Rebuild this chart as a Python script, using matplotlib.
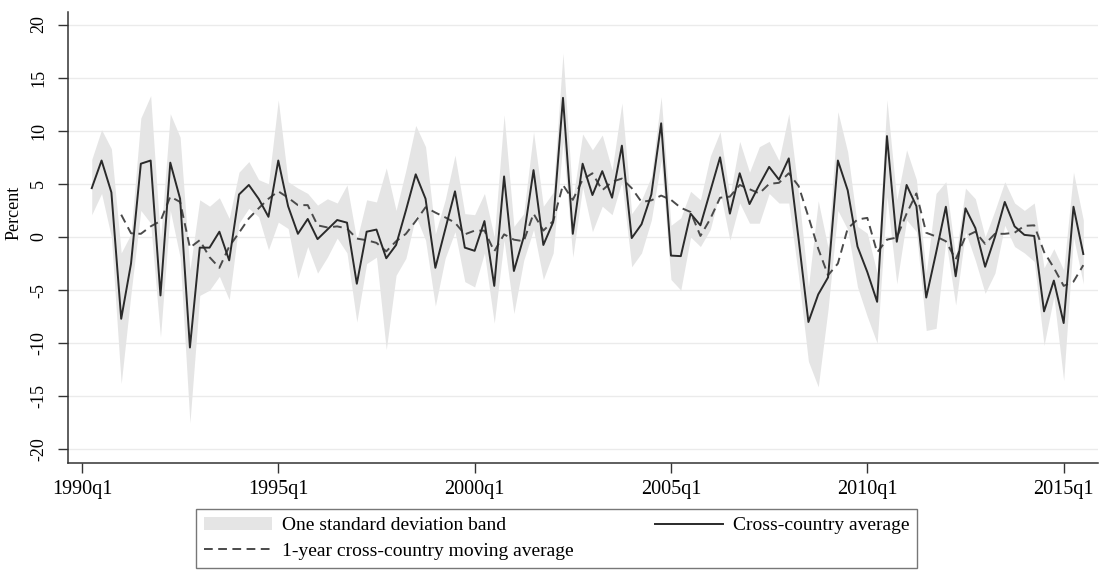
import matplotlib
matplotlib.use('Agg')
import matplotlib.pyplot as plt
import numpy as np

# quarters counted from 1990q1 (= 0); data run 1990q2 .. 2015q3
quarter = np.arange(1, 103)

avg = [4.6, 7.2, 4.2, -7.7, -2.5, 6.9, 7.2, -5.5, 7.0, 3.6,
       -10.4, -1.0, -1.0, 0.5, -2.2, 4.0, 4.9, 3.6, 1.9, 7.2,
       2.9, 0.3, 1.7, -0.2, 0.7, 1.6, 1.35, -4.4, 0.5, 0.7,
       -2.0, -0.75, 2.5, 5.9, 3.6, -2.9, 0.7, 4.3, -1.0, -1.3,
       1.5, -4.6, 5.7, -3.2, 0.0, 6.3, -0.75, 1.4, 13.1, 0.3,
       6.9, 3.95, 6.2, 3.7, 8.6, -0.1, 1.2, 4.0, 10.7, -1.75,
       -1.8, 2.2, 1.1, 4.3, 7.5, 2.2, 6.0, 3.1, 4.9, 6.6,
       5.4, 7.4, -0.2, -8.0, -5.4, -3.8, 7.2, 4.4, -0.9, -3.3,
       -6.1, 9.5, -0.45, 4.9, 2.9, -5.7, -1.5, 2.85, -3.7, 2.7,
       0.85, -2.8, 0.0, 3.3, 1.0, 0.2, 0.1, -7.0, -4.1, -8.1,
       2.85, -1.6]

# moving average starts at the 4th quarter (1991q1)
ma_quarter = np.arange(4, 103)
ma = [2.1, 0.35, 0.3, 1.0, 1.5, 3.8, 3.3, -1.0, -0.3, -1.9,
      -2.9, -0.9, 0.4, 1.75, 2.7, 3.6, 4.3, 3.7, 3.0, 3.0,
      1.1, 0.9, 1.0, 0.8, -0.15, -0.3, -0.55, -1.35, -0.4, 0.3,
      1.5, 2.8, 2.3, 1.85, 1.35, 0.25, 0.6, 0.6, -1.35, 0.25,
      -0.25, -0.4, 2.2, 0.6, 1.5, 4.9, 3.5, 5.4, 6.0, 4.4,
      5.2, 5.5, 4.6, 3.3, 3.45, 3.9, 3.5, 2.75, 2.35, 0.1,
      1.7, 3.7, 3.8, 4.9, 4.5, 4.1, 5.0, 5.1, 6.0, 4.8,
      1.9, -1.1, -3.6, -2.5, 0.8, 1.65, 1.8, -1.45, -0.25, -0.05,
      2.2, 4.1, 0.4, 0.05, -0.4, -2.1, 0.05, 0.5, -0.65, 0.3,
      0.3, 0.4, 1.05, 1.1, -1.4, -2.9, -4.6, -4.2, -2.65]

band_hi = [7.3, 10.1, 8.3, -1.5, 0.3, 11.2, 13.3, -0.3, 11.6, 9.4,
           -3.1, 3.5, 2.9, 3.7, 1.75, 6.1, 7.1, 5.4, 5.0, 12.9,
           5.2, 4.6, 4.1, 3.0, 3.6, 3.2, 4.9, -0.3, 3.5, 3.3,
           6.5, 2.5, 6.3, 10.5, 8.5, 0.3, 3.5, 7.7, 2.2, 2.1,
           4.1, 0.0, 11.5, 1.0, 2.2, 9.9, 2.9, 4.2, 17.3, 3.5,
           9.7, 8.2, 9.6, 6.3, 12.6, 2.2, 3.5, 5.7, 13.2, 1.1,
           1.8, 4.3, 3.5, 7.6, 9.9, 3.8, 9.0, 6.1, 8.5, 9.0,
           7.2, 11.6, 4.1, -4.7, 3.4, -1.0, 11.8, 8.0, 1.0, 0.35,
           -3.4, 12.9, 3.5, 8.2, 5.4, -3.4, 4.1, 5.2, -1.9, 4.6,
           3.6, 0.0, 2.5, 5.2, 3.2, 2.5, 3.2, -2.9, -1.1, -3.1,
           6.1, 1.6]

band_lo = [2.1, 4.1, 0.0, -13.8, -5.3, 2.5, 1.3, -9.4, 2.5, -1.9,
           -17.5, -5.5, -5.0, -3.7, -5.9, 1.3, 2.7, 1.9, -1.2, 1.4,
           0.8, -3.9, -0.9, -3.4, -1.9, -0.1, -1.5, -8.0, -2.5, -1.9,
           -10.6, -3.6, -2.0, 2.0, -0.3, -6.5, -2.0, 0.5, -4.2, -4.7,
           -1.5, -8.1, -0.3, -7.2, -2.2, 0.7, -4.0, -1.5, 9.0, -1.9,
           4.7, 0.5, 2.9, 2.1, 5.2, -2.8, -1.5, 1.6, 7.2, -4.0,
           -5.0, 0.0, -0.9, 0.7, 4.3, -0.3, 3.2, 1.3, 1.3, 4.1,
           3.2, 3.2, -3.7, -11.7, -14.1, -6.8, 2.5, 0.7, -4.7, -7.5,
           -10.0, 3.8, -4.4, 1.6, 0.5, -8.8, -8.6, -0.3, -6.4, 0.5,
           -2.2, -5.3, -3.4, 1.1, -0.9, -1.5, -2.3, -10.2, -5.6, -13.5,
           0.0, -4.4]

tick_pos = [0, 20, 40, 60, 80, 100]
tick_labels = ['1990q1', '1995q1', '2000q1', '2005q1', '2010q1', '2015q1']
y_ticks = [-20, -15, -10, -5, 0, 5, 10, 15, 20]

plt.rcParams['font.family'] = ['Liberation Serif', 'DejaVu Serif']

fig = plt.figure(figsize=(11.02, 5.76), dpi=100)
ax = fig.add_axes([0.0617, 0.1962, 0.9347, 0.783])

# horizontal grid
for yv in y_ticks:
    ax.axhline(yv, color='#ebebeb', lw=1.0, zorder=0)

band = ax.fill_between(quarter, band_lo, band_hi, color='#e5e5e5', lw=0,
                       zorder=1, label='One standard deviation band')
mline, = ax.plot(ma_quarter, ma, color='#4a4a4a', lw=1.4,
                 linestyle=(0, (4.5, 2.8)), zorder=2,
                 label='1-year cross-country moving average')
aline, = ax.plot(quarter, avg, color='#2a2a2a', lw=1.4, zorder=3,
                 label='Cross-country average')

ax.set_xlim(-1.42, 103.5)
ax.set_ylim(-21.27, 21.18)

ax.set_xticks(tick_pos)
ax.set_xticklabels(tick_labels)
ax.set_yticks(y_ticks)
ax.set_yticklabels([str(v) for v in y_ticks], rotation=90, va='center')

ax.tick_params(axis='x', length=7, width=1.0, color='#333333', labelsize=14.5, pad=5)
ax.tick_params(axis='y', length=7, width=1.0, color='#333333', labelsize=13, pad=8)

for s in ['top', 'right']:
    ax.spines[s].set_visible(False)
for s in ['left', 'bottom']:
    ax.spines[s].set_color('#333333')
    ax.spines[s].set_linewidth(1.1)

ax.set_ylabel('Percent', fontsize=13)
ax.yaxis.set_label_coords(-0.044, 0.554)

leg = fig.legend([band, mline, aline],
                 ['One standard deviation band',
                  '1-year cross-country moving average',
                  'Cross-country average'],
                 ncol=2, loc='upper left', bbox_to_anchor=(196 / 1102, 1 - 509 / 576),
                 fontsize=14, frameon=True, fancybox=False, handlelength=3.5,
                 columnspacing=4.2, labelspacing=0.4, borderpad=0.4,
                 handletextpad=0.5, borderaxespad=0)
leg.get_frame().set_edgecolor('#555555')
leg.get_frame().set_linewidth(1.0)

fig.savefig('out.png', dpi=100)
